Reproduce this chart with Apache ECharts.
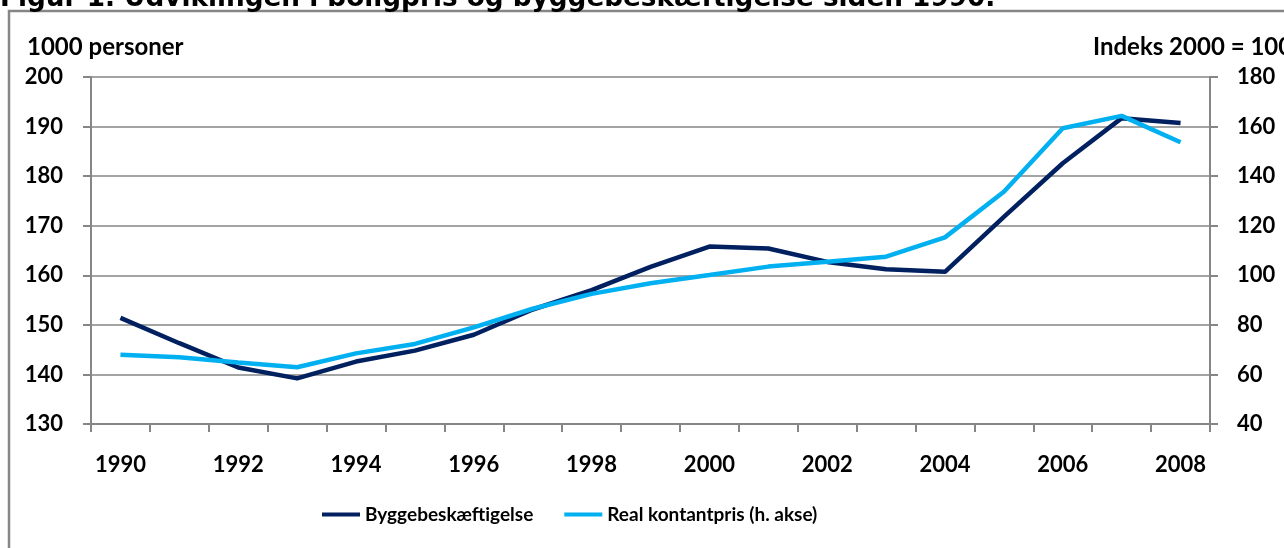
<!DOCTYPE html>
<html>
<head>
<meta charset="utf-8">
<script src="https://cdn.jsdelivr.net/npm/echarts@6/dist/echarts.min.js"></script>
<style>
html,body{margin:0;padding:0;background:#fff;}
#c{width:1284px;height:548px;}
</style>
</head>
<body>
<div id="c"></div>
<script>
const years = ['1990','1991','1992','1993','1994','1995','1996','1997','1998','1999','2000','2001','2002','2003','2004','2005','2006','2007','2008'];
const byggebeskaeftigelse = [151.4,146.3,141.4,139.2,142.6,144.8,148.0,153.1,157.0,161.7,165.8,165.4,162.7,161.2,160.7,171.8,182.6,191.7,190.7];
const realKontantpris = [67.9,66.9,64.8,62.9,68.5,72.3,79.0,86.5,92.5,96.8,100.1,103.5,105.5,107.5,115.3,133.7,159.3,164.3,153.7];
const leftTicks = {min:130, max:200, interval:10};
const rightTicks = {min:40, max:180, interval:20};
const titleText = 'Figur 1. Udviklingen i boligpris og byggebeskæftigelse siden 1990.';
const leftName = '1000 personer';
const rightName = 'Indeks 2000 = 100';
const seriesNames = ['Byggebeskæftigelse','Real kontantpris (h. akse)'];

const FONT = 'Lato, "Open Sans", sans-serif';
const GRAY = '#868686';
const chart = echarts.init(document.getElementById('c'), null, {renderer:'canvas'});
const lbl = {fontFamily: FONT, fontWeight:'bold', fontSize:22, color:'#000'};
chart.setOption({
  animation:false,
  backgroundColor:'#fff',
  grid:{left:91, right:74, top:77, bottom:124, containLabel:false},
  legend:{
    data: seriesNames,
    left: 317, top: 500,
    icon:'rect', itemWidth:38, itemHeight:4, itemGap:31,
    textStyle:{fontFamily:FONT, fontWeight:'bold', fontSize:19, color:'#000'}
  },
  xAxis:{
    type:'category', data: years, boundaryGap:true,
    axisLine:{lineStyle:{color:GRAY, width:2}},
    axisTick:{show:true, interval:0, length:8, lineStyle:{color:GRAY, width:2}},
    axisLabel:Object.assign({interval:1, margin:30}, lbl),
    splitLine:{show:false}
  },
  yAxis:[
    {type:'value', min:leftTicks.min, max:leftTicks.max, interval:leftTicks.interval, position:'left',
     axisLine:{show:true, lineStyle:{color:GRAY, width:2}},
     axisTick:{show:true, length:8, lineStyle:{color:GRAY, width:2}},
     axisLabel:Object.assign({margin:28}, lbl),
     splitLine:{show:true, lineStyle:{color:GRAY, width:1.5}}},
    {type:'value', min:rightTicks.min, max:rightTicks.max, interval:rightTicks.interval, position:'right',
     axisLine:{show:true, lineStyle:{color:GRAY, width:2}},
     axisTick:{show:true, length:8, lineStyle:{color:GRAY, width:2}},
     axisLabel:Object.assign({margin:27}, lbl),
     splitLine:{show:false}}
  ],
  series:[
    {name:seriesNames[0], type:'line', yAxisIndex:0, data:byggebeskaeftigelse, symbol:'none',
     lineStyle:{color:'#002060', width:4.5}, itemStyle:{color:'#002060'}, z:2},
    {name:seriesNames[1], type:'line', yAxisIndex:1, data:realKontantpris, symbol:'none',
     lineStyle:{color:'#00B0F0', width:4.5}, itemStyle:{color:'#00B0F0'}, z:3}
  ],
  graphic:[
    {type:'rect', shape:{x:9, y:11, width:1400, height:700}, style:{fill:null, stroke:GRAY, lineWidth:2.5}, silent:true},
    {type:'text', x:0, y:12, style:{text:titleText, fontFamily:'"DejaVu Sans", Verdana, sans-serif', fontWeight:'bold', fontSize:26.3, fill:'#000', verticalAlign:'bottom', align:'left'}},
    {type:'text', x:27, y:59, style:{text:leftName, fontFamily:FONT, fontWeight:'bold', fontSize:24, fill:'#000', verticalAlign:'bottom'}},
    {type:'text', x:1093, y:59, style:{text:rightName, fontFamily:FONT, fontWeight:'bold', fontSize:24, fill:'#000', verticalAlign:'bottom'}}
  ]
});
</script>
</body>
</html>
